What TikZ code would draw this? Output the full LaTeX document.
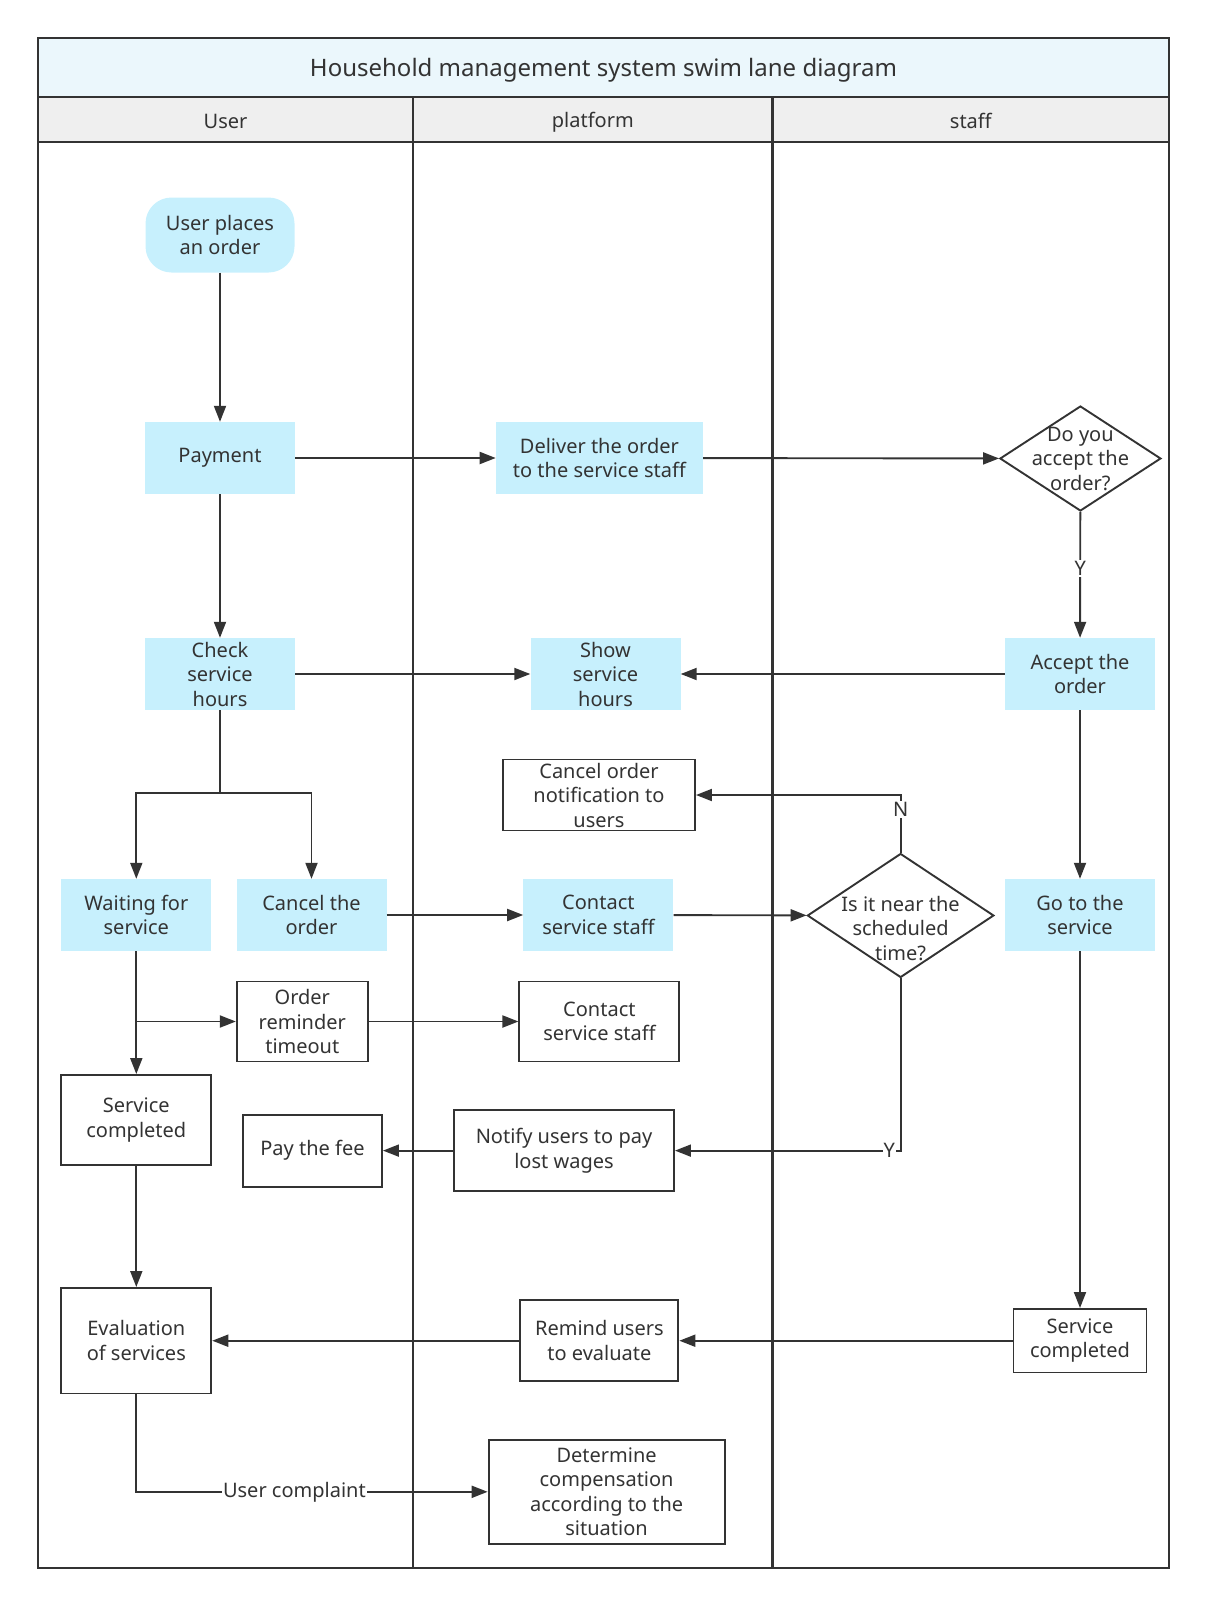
\documentclass[tikz,border=0pt]{standalone}
\usepackage{fontspec}
\setmainfont{Noto Sans}
\usetikzlibrary{shapes.geometric, arrows.meta, positioning}
\usepackage{xcolor}
\definecolor{boxcyan}{HTML}{C7F0FD}
\definecolor{titleblue}{HTML}{EBF7FC}
\definecolor{headgray}{HTML}{EFEFEF}
\definecolor{ink}{HTML}{333333}

\begin{document}
\begin{tikzpicture}[
        x=1pt, y=-1pt,
        % cyan process boxes without border
        bluebox/.style={rectangle, fill=boxcyan, text=ink, align=center, inner sep=0pt, minimum width=150pt, minimum height=72pt, font=\fontsize{20}{24.5}\selectfont},
        % white boxes with a dark border
        plainbox/.style={rectangle, draw=ink, line width=1.9pt, fill=white, text=ink, align=center, inner sep=0pt, font=\fontsize{20}{24.5}\selectfont},
        % decisions, text is set as a centred label
        decision/.style={diamond, draw=ink, line width=1.9pt, fill=white, inner sep=0pt},
        asktext/.style={text=ink, align=center, inner sep=0pt, font=\fontsize{20}{24.5}\selectfont},
        % connectors
        arrow/.style={-{Triangle[length=16pt, width=12pt]}, line width=1.9pt, draw=ink},
        link/.style={line width=1.9pt, draw=ink},
        edgetext/.style={fill=white, text=ink, inner sep=1pt, font=\fontsize{20}{24}\selectfont},
        lane/.style={line width=2.5pt, draw=ink},
        lanetext/.style={text=ink, font=\fontsize{20}{24}\selectfont}
    ]
    \useasboundingbox (0,0) rectangle (1206,1606);

    % --- THE LANES ---
    \fill[titleblue] (38,38) rectangle (1169,97);
    \fill[headgray] (38,97) rectangle (1169,142);
    \draw[lane] (38,97) -- (1169,97);
    \draw[lane] (38,142) -- (1169,142);
    \draw[lane] (413,97) -- (413,1568);
    \draw[lane] (772.5,97) -- (772.5,1568);
    \draw[lane] (38,38) rectangle (1169,1568);
    \node (title) [lanetext, font=\fontsize{24}{28}\selectfont] at (603.5,70.5) {Household management system swim lane diagram};
    \node (userlane) [lanetext] at (225.5,121) {User};
    \node (platformlane) [lanetext] at (592.8,122.5) {platform};
    \node (stafflane) [lanetext] at (970.8,121) {staff};

    % --- THE BOXES ---
    \node (order) [bluebox, rounded corners=26pt, minimum width=149pt, minimum height=75pt] at (220,235) {User places\\an order};
    \node (pay) [bluebox] at (220,458) {\raisebox{-2.5pt}{Payment}};
    \node (deliver) [bluebox, minimum width=207pt] at (599.4,458) {Deliver the order\\to the service staff};
    \node (accept) [decision, minimum width=161pt, minimum height=105pt, label={[asktext]center:Do you\\accept the\\order?}] at (1080.4,458.5) {};

    \node (check) [bluebox] at (220,674) {Check\\service\\hours};
    \node (show) [bluebox] at (605.5,674) {Show\\service\\hours};
    \node (take) [bluebox] at (1080,674) {Accept the\\order};

    \node (cancelnote) [plainbox, minimum width=192pt, minimum height=71pt] at (599,795) {Cancel order\\notification to\\users};

    \node (wait) [bluebox] at (136.3,915) {Waiting for\\service};
    \node (cancel) [bluebox] at (311.5,915) {Cancel the\\order};
    \node (contact) [bluebox] at (598.4,915) {Contact\\service staff};
    \node (near) [decision, minimum width=186.5pt, minimum height=124pt, label={[asktext, yshift=-13pt]center:Is it near the\\scheduled\\time?}] at (900.6,915.5) {};
    \node (goto) [bluebox] at (1080,915) {Go to the\\service};

    \node (timeout) [plainbox, minimum width=131pt, minimum height=80pt] at (302.3,1021.5) {Order\\reminder\\timeout};
    \node (contactagain) [plainbox, minimum width=160pt, minimum height=80pt] at (599.4,1021.5) {Contact\\service staff};

    \node (userdone) [plainbox, minimum width=150pt, minimum height=90pt] at (136.3,1120) {Service\\completed};
    \node (fee) [plainbox, minimum width=139pt, minimum height=72pt] at (312.5,1150.6) {\raisebox{-2.5pt}{Pay the fee}};
    \node (notify) [plainbox, minimum width=220pt, minimum height=81pt] at (564,1150.6) {Notify users to pay\\lost wages};

    \node (evaluate) [plainbox, minimum width=150pt, minimum height=105.5pt] at (136.3,1340.7) {Evaluation\\of services};
    \node (remind) [plainbox, minimum width=158pt, minimum height=81pt] at (599.4,1340.7) {Remind users\\to evaluate};
    \node (staffdone) [plainbox, minimum width=133pt, minimum height=63.5pt] at (1080,1340.7) {Service\\completed};

    \node (compensate) [plainbox, minimum width=236pt, minimum height=104.5pt] at (606.6,1491.8) {Determine\\compensation\\according to the\\situation};

    % --- THE ARROWS ---
    \coordinate (fork) at (220,793);
    \draw [arrow] (order) -- (pay);
    \draw [arrow] (pay) -- (deliver);
    \draw [arrow] (deliver) -- (accept);
    \draw [arrow] (accept) -- node[edgetext, pos=0.45] {Y} (take);
    \draw [arrow] (pay) -- (check);
    \draw [arrow] (check) -- (show);
    \draw [arrow] (take) -- (show);
    \draw [arrow] (take) -- (goto);
    \draw [link] (check) -- (fork);
    \draw [arrow] (fork) -| (wait.north);
    \draw [arrow] (fork) -| (cancel.north);
    \draw [arrow] (cancel) -- (contact);
    \draw [arrow] (contact) -- (near);
    \draw [arrow] (near.north) -- node[edgetext, pos=0.75] {N} (near.north |- cancelnote.east) -- (cancelnote.east);
    \draw [arrow] (near.south) -- (near.south |- notify.east) -- node[edgetext, pos=0.05] {Y} (notify.east);
    \draw [arrow] (wait) -- (userdone);
    \draw [arrow] (wait.south |- timeout.west) -- (timeout.west);
    \draw [arrow] (timeout) -- (contactagain);
    \draw [arrow] (notify) -- (fee);
    \draw [arrow] (userdone) -- (evaluate);
    \draw [arrow] (goto) -- (staffdone);
    \draw [arrow] (staffdone) -- (remind);
    \draw [arrow] (remind) -- (evaluate);
    \draw [arrow] (evaluate.south) -- (evaluate.south |- compensate.west) -- node[edgetext, pos=0.45] {User complaint} (compensate.west);

\end{tikzpicture}
\end{document}
